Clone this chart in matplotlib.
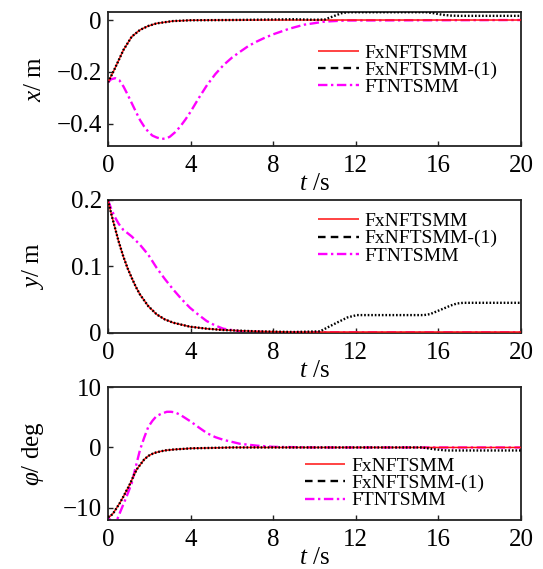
import matplotlib
matplotlib.use("Agg")
import matplotlib.pyplot as plt
from matplotlib.lines import Line2D

plt.rcParams['font.family'] = ['Liberation Serif', 'DejaVu Serif']
plt.rcParams['mathtext.fontset'] = 'custom'
plt.rcParams['mathtext.rm'] = 'Liberation Serif'
plt.rcParams['mathtext.it'] = 'Liberation Serif:italic'
plt.rcParams['axes.unicode_minus'] = True

# ---------------- data ----------------
series_names = ["FxNFTSMM", "FxNFTSMM-(1)", "FTNTSMM"]

# x / m
x_red_t = [0, 0.3, 0.75, 1.15, 1.55, 1.95, 2.35, 3.15, 4, 6, 8, 20]
x_red_v = [-0.24, -0.192, -0.115, -0.064, -0.038, -0.023, -0.013, -0.004, -0.001, 0, 0, 0]
x_blk_t = [0, 0.3, 0.75, 1.15, 1.55, 1.95, 2.35, 3.15, 4, 6, 8, 9, 10, 10.5, 10.9, 11.3, 11.6,
           15.4, 15.8, 16.2, 16.6, 17, 20]
x_blk_v = [-0.24, -0.192, -0.115, -0.064, -0.038, -0.023, -0.013, -0.004, -0.001, 0, 0.002, 0.003,
           0.001, 0.002, 0.014, 0.026, 0.03, 0.03, 0.026, 0.02, 0.017, 0.016, 0.016]
x_mag_t = [0, 0.15, 0.35, 0.55, 0.75, 0.95, 1.15, 1.35, 1.55, 1.75, 1.95, 2.15, 2.35, 2.6, 2.85,
           3.0, 3.25, 3.5, 3.75, 4.0, 4.4, 4.8, 5.2, 5.6, 6.0, 6.4, 6.8, 7.2, 7.6, 8.0, 8.8,
           9.5, 10.5, 11.5, 20]
x_mag_v = [-0.24, -0.228, -0.224, -0.232, -0.256, -0.287, -0.32, -0.353, -0.385, -0.41, -0.43,
           -0.445, -0.452, -0.458, -0.455, -0.449, -0.432, -0.41, -0.383, -0.353, -0.3, -0.25,
           -0.208, -0.173, -0.145, -0.122, -0.1, -0.083, -0.068, -0.055, -0.033, -0.018,
           -0.006, -0.002, 0]

# y / m
y_red_t = [0, 0.15, 0.32, 0.52, 0.74, 0.95, 1.15, 1.35, 1.55, 1.95, 2.36, 2.75, 3.16, 3.97,
           4.78, 5.58, 7.2, 9, 20]
y_red_v = [0.2, 0.18, 0.16, 0.137, 0.115, 0.097, 0.0825, 0.069, 0.0575, 0.040, 0.0275, 0.020,
           0.015, 0.009, 0.006, 0.004, 0.002, 0.001, 0.001]
y_blk_t = [0, 0.15, 0.32, 0.52, 0.74, 0.95, 1.15, 1.35, 1.55, 1.95, 2.36, 2.75, 3.16, 3.97,
           4.78, 5.58, 7.2, 9, 10.27, 10.7, 11.24, 11.6, 12.05, 15.3, 15.6, 15.95, 16.3, 16.6,
           16.9, 17.2, 20]
y_blk_v = [0.2, 0.18, 0.16, 0.137, 0.115, 0.097, 0.0825, 0.069, 0.0575, 0.040, 0.0275, 0.020,
           0.015, 0.009, 0.006, 0.004, 0.002, 0.001, 0.002, 0.009, 0.0175, 0.023, 0.0265,
           0.0265, 0.028, 0.0325, 0.037, 0.041, 0.044, 0.045, 0.045]
y_mag_t = [0, 0.15, 0.32, 0.52, 0.74, 0.95, 1.15, 1.55, 1.95, 2.36, 2.75, 3.16, 3.55, 3.97,
           4.38, 4.78, 5.18, 5.58, 6.39, 8, 20]
y_mag_v = [0.2, 0.187, 0.175, 0.164, 0.155, 0.15, 0.145, 0.1325, 0.1175, 0.0975, 0.081, 0.065,
           0.051, 0.0375, 0.027, 0.0175, 0.011, 0.006, 0.002, 0.0005, 0.0005]

# phi / deg
p_red_t = [0, 0.1, 0.25, 0.4, 0.57, 0.75, 0.9, 1.0, 1.15, 1.25, 1.4, 1.55, 1.75, 1.95, 2.15,
           2.35, 2.75, 3.15, 4, 6, 20]
p_red_v = [-11.5, -11.4, -10.9, -10.1, -9.2, -8.1, -7.1, -6.5, -5.4, -4.6, -3.6, -2.9, -2.0,
           -1.4, -1.05, -0.8, -0.5, -0.35, -0.15, 0, 0]
p_blk_t = [0, 0.1, 0.25, 0.4, 0.57, 0.75, 0.9, 1.0, 1.15, 1.25, 1.4, 1.55, 1.75, 1.95, 2.15,
           2.35, 2.75, 3.15, 4, 6, 15.2, 15.8, 16.4, 20]
p_blk_v = [-11.5, -11.4, -10.9, -10.1, -9.2, -8.1, -7.1, -6.5, -5.4, -4.6, -3.6, -2.9, -2.0,
           -1.4, -1.05, -0.8, -0.5, -0.35, -0.15, 0, 0, -0.3, -0.5, -0.5]
p_mag_t = [0, 0.2, 0.4, 0.6, 0.77, 0.93, 1.15, 1.35, 1.55, 1.75, 1.95, 2.15, 2.35, 2.6, 2.85,
           3.05, 3.25, 3.5, 4.0, 4.4, 4.8, 5.2, 5.6, 6.4, 7.2, 8.0, 10, 20]
p_mag_v = [-11.6, -12.3, -12.3, -10.6, -9.2, -7.85, -5.9, -3.1, -0.4, 1.6, 3.4, 4.4, 5.2, 5.6,
           5.9, 5.9, 5.8, 5.4, 4.3, 3.3, 2.35, 1.7, 1.25, 0.6, 0.3, 0.1, 0, 0]

x_ticks = [0, 4, 8, 12, 16, 20]
x_ticklabels = ["0", "4", "8", "12", "16", "20"]
yt_x = [-0.4, -0.2, 0]
yt_x_labels = ["\u22120.4", "\u22120.2", "0"]
yt_y = [0, 0.1, 0.2]
yt_y_labels = ["0", "0.1", "0.2"]
yt_p = [-10, 0, 10]
yt_p_labels = ["\u221210", "0", "10"]

ylabels = [r"$x$/ m", r"$y$/ m", r"$\varphi$/ deg"]
xlabel = r"$t$ /s"

# ---------------- styles ----------------
RED = "#ff1010"
MAG = "#ff00ff"
BLK = "#000000"
red_kw = dict(color=RED, lw=1.1, solid_capstyle="butt")
blk_kw = dict(color=BLK, lw=1.7, linestyle=(0, (0.7, 0.8)))
mag_kw = dict(color=MAG, lw=1.7, linestyle=(0, (4, 1.5, 1, 1.5)))

TICK_FS = 18
LAB_FS = 18
LEG_FS = 14

fig = plt.figure(figsize=(5.43, 5.69), dpi=100)
W, H = 543, 569
def rect(l, r, t, b):
    return [l / W, 1 - b / H, (r - l) / W, (b - t) / H]

axes = [fig.add_axes(rect(108, 521, 11.7, 146)),
        fig.add_axes(rect(108, 521, 200, 333)),
        fig.add_axes(rect(108, 521, 387, 520))]

data = [
    ((x_red_t, x_red_v), (x_blk_t, x_blk_v), (x_mag_t, x_mag_v)),
    ((y_red_t, y_red_v), (y_blk_t, y_blk_v), (y_mag_t, y_mag_v)),
    ((p_red_t, p_red_v), (p_blk_t, p_blk_v), (p_mag_t, p_mag_v)),
]
ylims = [(-0.485, 0.032), (-0.0005, 0.2), (-12, 10)]
yticks = [(yt_x, yt_x_labels), (yt_y, yt_y_labels), (yt_p, yt_p_labels)]
leg_anchor = [(0.508, 0.565), (0.508, 0.71), (0.476, 0.275)]

handles = [Line2D([], [], **red_kw),
           Line2D([], [], color=BLK, lw=1.7, linestyle=(0, (3.2, 2.2))),
           Line2D([], [], **mag_kw)]

for ax, d, yl, (ytv, ytl), lab, anc in zip(axes, data, ylims, yticks, ylabels, leg_anchor):
    (rt, rv), (bt, bv), (mt, mv) = d
    ax.plot(mt, mv, zorder=2, **mag_kw)
    ax.plot(rt, rv, zorder=3, **red_kw)
    ax.plot(bt, bv, zorder=4, **blk_kw)
    ax.set_xlim(0, 20)
    ax.set_ylim(*yl)
    ax.set_xticks(x_ticks)
    ax.set_xticklabels(x_ticklabels)
    ax.set_yticks(ytv)
    ax.set_yticklabels(ytl)
    ax.tick_params(direction="in", length=3.5, width=1.0, labelsize=TICK_FS,
                   top=False, right=False, color="#222222")
    ax.tick_params(axis="x", pad=6.5)
    ax.tick_params(axis="y", pad=4.5)
    for s in ax.spines.values():
        s.set_linewidth(1.3)
        s.set_color("#222222")
    ax.set_xlabel(xlabel, fontsize=LAB_FS)
    ax.xaxis.set_label_coords(0.5, -0.2)
    ax.set_ylabel(lab, fontsize=LAB_FS)
    ax.yaxis.set_label_coords(-0.149, 0.5)
    ax.legend(handles, series_names, loc="center left", bbox_to_anchor=anc,
              frameon=False, fontsize=LEG_FS, handlelength=2.1, handletextpad=0.3,
              labelspacing=-0.02, borderpad=0, borderaxespad=0)

fig.savefig("out.png", dpi=100)
